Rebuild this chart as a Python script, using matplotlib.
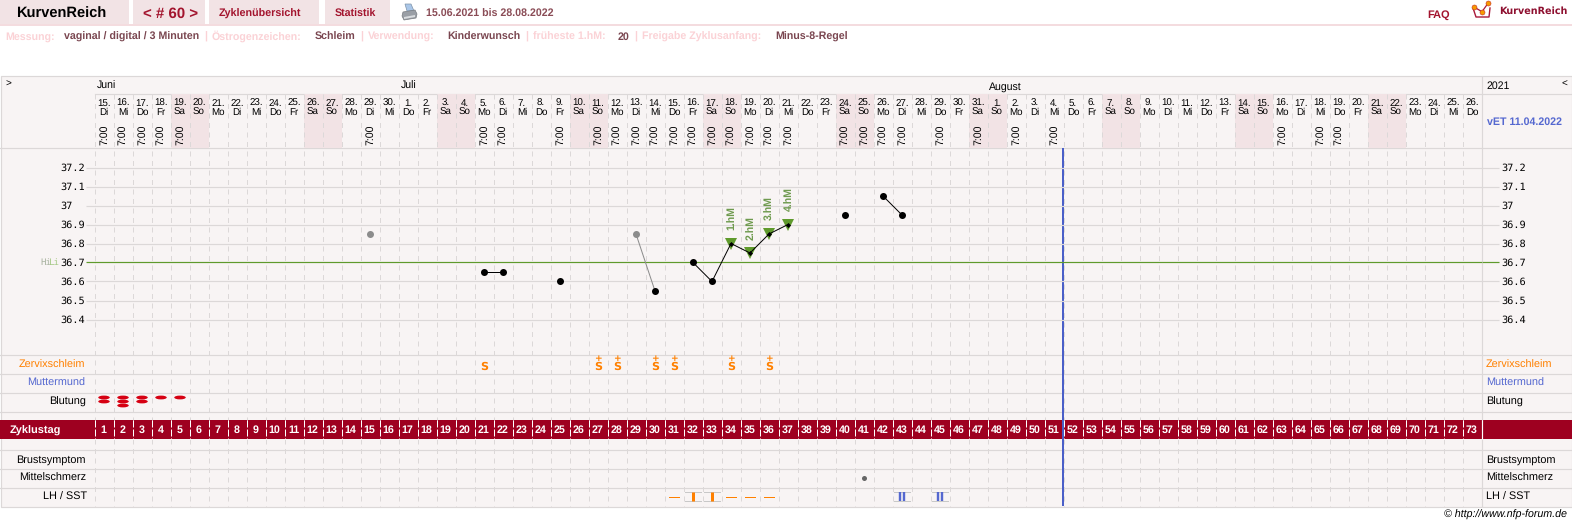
import matplotlib
matplotlib.use("Agg")
import matplotlib.pyplot as plt
from matplotlib import font_manager as fm
from matplotlib.patches import Rectangle, Ellipse, Polygon

W, H = 1572, 526
PX = 0.72  # one pixel in points at dpi 100

# ---------- data ----------
date_labels = [*range(15, 31), *range(1, 32), *range(1, 27)]
weekdays = ["Di", "Mi", "Do", "Fr", "Sa", "So", "Mo"] * 10 + ["Di", "Mi", "Do"]
cycle_days = list(range(1, 74))
months = ["Juni", "Juli", "August"]
month_start_days = [1, 17, 48]
time_days = [1, 2, 3, 4, 5, 15, 21, 22, 25, 27, 28, 29, 30, 31, 32, 33, 34, 35, 36, 37,
             40, 41, 42, 43, 45, 47, 49, 51, 63, 65, 66]
temp_days = [15, 21, 22, 25, 29, 30, 32, 33, 34, 35, 36, 37, 40, 42, 43]
temp_values = [36.85, 36.65, 36.65, 36.6, 36.85, 36.55, 36.7, 36.6, 36.8, 36.75, 36.85, 36.9,
               36.95, 37.05, 36.95]
excluded_days = [15, 29]
black_runs = [[21, 22], [32, 33, 34, 35, 36, 37], [42, 43]]
grey_runs = [[29, 30]]
hm_days = [34, 35, 36, 37]
hm_labels = ["1.hM", "2.hM", "3.hM", "4.hM"]
temp_ticks = [37.2, 37.1, 37.0, 36.9, 36.8, 36.7, 36.6, 36.5, 36.4]
temp_tick_labels = ["37.2", "37.1", "37", "36.9", "36.8", "36.7", "36.6", "36.5", "36.4"]
hili = 36.7
today_boundary = 51.47
mucus_days = [21, 27, 28, 30, 31, 34, 36]
mucus_plus = [False, True, True, True, True, True, True]
bleed_days = [1, 2, 3, 4, 5]
bleed_strength = [2, 3, 2, 1, 1]
pain_days = [41]
lh_dash_days = [31, 34, 35, 36]
lh_pos_days = [32, 33]
sst_days = [43, 45]

# ---------- colours ----------
BG = "#F8F4F4"; SHADE = "#F2E3E5"; GRID = "#DCD8D8"; RED = "#9E0020"; NAVRED = "#A3142E"
GREEN = "#5F9A2C"; BLUE = "#5568D0"; ORANGE = "#FF8000"; SOFT = "#FBD2D6"; VALUE = "#7A4650"

plt.rcParams["font.family"] = ["Liberation Sans", "DejaVu Sans"]
plt.rcParams["text.hinting"] = "no_hinting"
names = {f.name for f in fm.fontManager.ttflist}
NARROW = "Liberation Sans Narrow" if "Liberation Sans Narrow" in names else "Liberation Sans"
DAY_SIZE = 7.9 if NARROW.endswith("Narrow") else 7.0
fig = plt.figure(figsize=(W / 100, H / 100), dpi=100, facecolor="white")

# page axes in pixel coordinates for the surrounding page furniture
pg = fig.add_axes([0, 0, 1, 1]); pg.set_xlim(0, W); pg.set_ylim(H, 0); pg.axis("off")

def T(x, y, s, size=7.6, color="black", ha="left", weight="normal", ax=pg, **kw):
    # y is the centre of the capital letters: baseline sits half a cap height below
    return ax.text(x, y + size * 0.5, s, fontsize=size, color=color, ha=ha, va="baseline",
                   fontweight=weight, **kw)

# nav bar
for x0, x1 in [(0, 129), (133, 205), (209, 319), (325, 390)]:
    pg.add_patch(Rectangle((x0, 0), x1 - x0, 24, color=SHADE, lw=0))
pg.add_patch(Rectangle((0, 23.5), W, 2, color="#F4DCDF", lw=0))
T(16.5, 12.7, "KurvenReich", 10.5, "black", weight="bold")
T(143, 12.7, "< # 60 >", 10.8, NAVRED, weight="bold")
T(219, 12.7, "Zyklenübersicht", 7.75, NAVRED, weight="bold")
T(335, 12.7, "Statistik", 7.7, NAVRED, weight="bold")
T(425.5, 12.7, "15.06.2021 bis 28.08.2022", 7.7, "#8A4C56", weight="bold")
# printer icon
pg.add_patch(Polygon([(405, 4), (411, 4), (414, 11), (407, 11)], fc="#A9C6E8", ec="#7F93A8", lw=0.5))
pg.add_patch(Polygon([(403, 12), (415, 10), (417, 14), (416, 18), (404, 20), (402, 16)], fc="#9A9FA6", ec="#777B80", lw=0.5))
pg.add_patch(Polygon([(404, 17), (415, 15), (415, 17), (404, 19)], fc="#DADDE0", lw=0))
# FAQ and logo
T(1427, 14, "FAQ", 7.9, NAVRED, weight="bold")
pg.plot([1473, 1476, 1489, 1490], [8, 17, 17, 8], color="#A8183A", lw=1.0)
pg.plot([1474, 1482, 1488], [7, 11.7, 3.3], color="#A8183A", lw=0.9)
pg.plot([1474, 1482, 1488], [7, 11.7, 3.3], ls="none", marker="o", ms=3.6, mfc="#F59A00", mec="#C8302A", mew=0.4)
T(1499.5, 10.5, "KurvenReich", 6.9, "#8E1030", weight="bold", family="DejaVu Sans")

# info line
for x, s, c in [(5.5, "Messung:", SOFT), (64, "vaginal / digital / 3 Minuten", VALUE), (204, "|", SOFT),
                (212, "Östrogenzeichen:", SOFT), (315, "Schleim", VALUE), (360, "|", SOFT),
                (368, "Verwendung:", SOFT), (447, "Kinderwunsch", VALUE), (525, "|", SOFT),
                (533, "früheste 1.hM:", SOFT), (618, "20", VALUE), (634, "|", SOFT),
                (642, "Freigabe Zyklusanfang:", SOFT), (775, "Minus-8-Regel", VALUE)]:
    T(x, 36, s, 7.7, c, weight="bold")

# table panel and rows
pg.add_patch(Rectangle((0.5, 75.5), W - 1, 431, fc=BG, ec=GRID, lw=1.2 * PX))
for y in [147.5, 354.5, 373.5, 392.5, 411.5, 449.5, 468.5, 487.5]:
    pg.plot([0, W], [y, y], color=GRID, lw=1.2 * PX)
pg.plot([94.5, W], [93.5, 93.5], color=GRID, lw=1.2 * PX)

# day axes: x = cycle day, y = page pixels
dx = fig.add_axes([94.5 / W, 0, 1387 / W, 1]); dx.set_xlim(0.5, 73.5); dx.set_ylim(H, 0)
dx.axis("off"); dx.patch.set_alpha(0)
for d, lab, wd in zip(cycle_days, date_labels, weekdays):
    if wd in ("Sa", "So"):
        dx.bar(d, 53.5, width=1, bottom=94, color=SHADE, lw=0, zorder=1)
    T(d, 102.5, f"{lab}.", DAY_SIZE, ax=dx, ha="center", family=NARROW, zorder=4)
    T(d, 111.5, wd, DAY_SIZE, ax=dx, ha="center", family=NARROW, zorder=4)
    T(d - 0.03, 429.5, str(d), 7.7, "white", ax=dx, ha="center", weight="bold", zorder=6)
for d in time_days:
    dx.text(d, 134.5, "7:00", fontsize=7.6, rotation=90, ha="center", va="center", zorder=4)
bounds = [d - 0.5 for d in cycle_days]
dash = (0, (5, 4.5))
dx.vlines(bounds, 94, 420, color=GRID, lw=1 * PX, linestyles=[dash], zorder=2)
dx.vlines(bounds, 439, 506, color=GRID, lw=1 * PX, linestyles=[dash], zorder=2)

# cycle day band
pg.add_patch(Rectangle((0, 420), W, 19, color=RED, lw=0, zorder=3))
T(10, 429.5, "Zyklustag", 7.9, "white", weight="bold", zorder=5)
dx.vlines(bounds, 420, 439, color="white", lw=1 * PX, linestyles=[(0, (7, 2))], zorder=5)
dx.vlines([73.5], 75.5, 506.5, color=GRID, lw=1.2 * PX, zorder=2.5, clip_on=False)
dx.vlines([73.5], 420, 439, color="white", lw=1 * PX, zorder=5, clip_on=False)

# temperature axes, 0.1 degrees = 19 px, 36.7 on pixel row 262.5
top, bottom = 147.5, 354.5
ax = fig.add_axes([94.5 / W, 1 - bottom / H, 1387 / W, (bottom - top) / H])
ax.set_xlim(0.5, 73.5)
limits = (hili - (bottom - 262.5) / 190, hili + (262.5 - top) / 190)
ax.set_ylim(*limits)
ax.patch.set_alpha(0)
rax = ax.twinx(); rax.set_ylim(*limits); rax.patch.set_alpha(0)
for a in (ax, rax):
    for s in a.spines.values():
        s.set_visible(False)
ax.set_xticks([])
ax.set_yticks(temp_ticks); ax.set_yticklabels(temp_tick_labels, family="DejaVu Sans Mono", fontsize=7.4)
rax.set_yticks(temp_ticks); rax.set_yticklabels(temp_tick_labels, family="DejaVu Sans Mono", fontsize=7.4)
ax.tick_params(axis="y", length=9.5 * PX, width=1.2 * PX, color=GRID, pad=25 * PX)
rax.tick_params(axis="y", length=16.5 * PX, width=1.2 * PX, color=GRID, pad=3.5 * PX)
ax.grid(axis="y", color=GRID, lw=1.2 * PX)
for tick, v in zip(ax.yaxis.get_major_ticks(), temp_ticks):
    tick.label1.set_ha("left")
    if v == hili:
        tick.gridline.set_color(GREEN); tick.tick1line.set_markeredgecolor(GREEN)
for tick, v in zip(rax.yaxis.get_major_ticks(), temp_ticks):
    if v == hili:
        tick.tick2line.set_markeredgecolor(GREEN)
T(40, 262, "Hi", 6.6, "#A9B3A0", family="DejaVu Sans Mono")
T(48, 262, "Li", 6.6, "#A4C884", family="DejaVu Sans Mono")

temp = dict(zip(temp_days, temp_values))
for run in black_runs:
    ax.plot(run, [temp[d] for d in run], color="black", lw=1 * PX, zorder=4)
for run in grey_runs:
    ax.plot(run, [temp[d] for d in run], color="#8C8C8C", lw=1 * PX, zorder=4)
ax.plot(hm_days, [temp[d] for d in hm_days], ls="none", marker="v", ms=12 * PX, color=GREEN, mew=0, zorder=3.5)
for d, lab in zip(hm_days, hm_labels):
    ax.annotate(lab, (d, temp[d]), xytext=(0.7, 13.5 * PX), textcoords="offset points", rotation=90,
                ha="center", va="bottom", fontsize=7.6, fontweight="bold", color="#6E9A4E")
for d in temp_days:
    if d in hm_days:
        ax.plot(d, temp[d], ls="none", marker="D", ms=3.6 * PX, color="black", mew=0, zorder=5)
    else:
        c = "#8C8C8C" if d in excluded_days else "black"
        ax.plot(d, temp[d], ls="none", marker="o", ms=7 * PX, color=c, mew=0, zorder=5)
dx.vlines([today_boundary], 148, 506, color="#4A5FC8", lw=2 * PX, zorder=6)
pg.set_zorder(1); dx.set_zorder(2); rax.set_zorder(3); ax.set_zorder(4)

# header labels
for d, m in zip(month_start_days, months):
    T(d - 0.4, 85.5, m, 7.6, ax=dx, zorder=4)
T(5, 83, ">", 7.2); T(1486, 85.5, "2021", 7.6); T(1561, 83, "<", 7.2)
T(1524, 121, "vET 11.04.2022", 7.7, BLUE, ha="center", weight="bold")

# row labels
for y, s, c, xl in [(363.5, "Zervixschleim", ORANGE, 85), (382, "Muttermund", BLUE, 85.5),
                    (401, "Blutung", "black", 86), (458.5, "Brustsymptom", "black", 86),
                    (477, "Mittelschmerz", "black", 86.5), (496, "LH / SST", "black", 87)]:
    T(xl, y, s, 7.8, c, ha="right")
    T(1486, y, s, 7.8, c)
T(1566.5, 514, "© http://www.nfp-forum.de", 7.7, "black", ha="right", style="italic")

# symptom rows
for d, plus in zip(mucus_days, mucus_plus):
    T(d, 366, "S", 8.0, ORANGE, ax=dx, ha="center", weight="bold", family="DejaVu Sans", zorder=6)
    if plus:
        T(d, 358, "+", 6.6, ORANGE, ax=dx, ha="center", weight="bold", family="DejaVu Sans", zorder=6)
for d, n in zip(bleed_days, bleed_strength):
    for y in [397.5, 401.5, 405.5][:n]:
        dx.add_patch(Ellipse((d, y), 11.5 / 19, 3.8, color="#D60012", lw=0, zorder=6))
dx.plot(pain_days, [477.5] * len(pain_days), ls="none", marker="o", ms=5 * PX, color="#666666", mew=0, zorder=6)
for d in lh_dash_days:
    dx.plot([d - 0.24, d + 0.24], [496.5, 496.5], color=ORANGE, lw=1 * PX, zorder=6)
for d in lh_pos_days + sst_days:
    for y in (492, 500.5):
        dx.plot([d - 0.4, d + 0.4], [y, y], color="#C8C8C8", lw=1 * PX, zorder=5)
for d in lh_pos_days:
    dx.plot([d, d], [492, 500.5], color=ORANGE, lw=3 * PX, solid_capstyle="butt", zorder=6)
for d in sst_days:
    for off in (-0.125, 0.125):
        dx.plot([d + off, d + off], [492, 500.5], color=BLUE, lw=2.4 * PX, solid_capstyle="butt", zorder=6)

fig.savefig("out.png", dpi=100, facecolor="white")
